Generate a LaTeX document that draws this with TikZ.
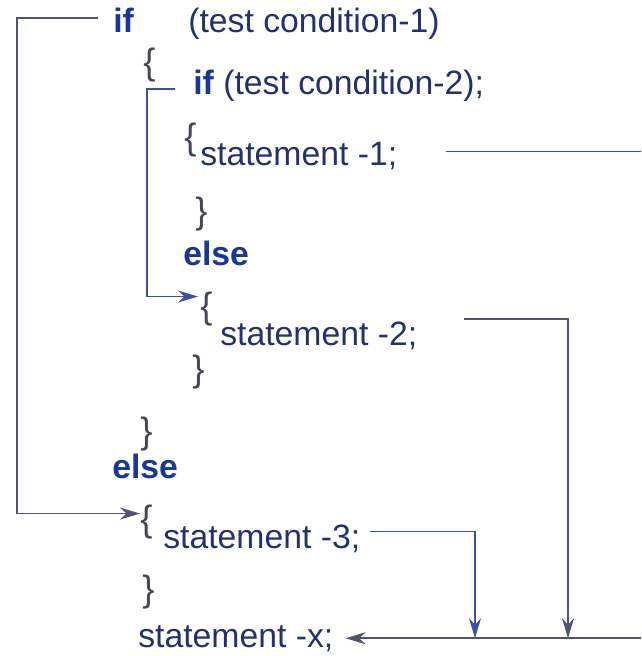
\documentclass[tikz,border=0pt]{standalone}
\usepackage{fontspec}
\setmainfont{Liberation Sans}
\usepackage{tikz}
\usetikzlibrary{arrows.meta,calc}
\definecolor{codetext}{RGB}{35,50,110}
\definecolor{keyword}{RGB}{25,55,150}
\definecolor{outerline}{RGB}{80,85,110}
\definecolor{flowline}{RGB}{60,80,160}
\definecolor{bracegray}{RGB}{70,70,85}
\tikzset{
  code/.style={anchor=base west, inner sep=0pt, text=codetext, font=\fontsize{24}{28}\selectfont},
  kw/.style={code, text=keyword, font=\fontsize{24}{28}\selectfont\bfseries},
  brace/.style={code, text=bracegray, font=\fontsize{26}{28}\selectfont},
  outer/.style={draw=outerline, line width=1.3pt},
  flow/.style={draw=flowline, line width=1.2pt},
  tip/.style={-{Stealth[length=5mm,width=3mm]}}
}
\begin{document}
\begin{tikzpicture}[x=0.025cm, y=-0.025cm]
\useasboundingbox (0,0) rectangle (641,656);

% outer if
\node[kw] (if1) at (113,33) {if};
\node[code] (cond1) at (188,33) {(test condition-1)};
\node[brace] (ob1) at (143,75) {\{};

% inner if
\node[kw] (if2) at (193,95) {if};
\node[code] (cond2) at (223,95) {(test condition-2);};
\node[brace] (ob2) at (184,150) {\{};
\node[code] (st1) at (200,165) {statement -1;};
\node[brace] (cb2) at (195,223) {\}};
\node[kw] (else2) at (183,265) {else};
\node[brace] (ob3) at (200,318) {\{};
\node[code] (st2) at (220,345) {statement -2;};
\node[brace] (cb3) at (192,381) {\}};
\node[brace] (cb1) at (140,443) {\}};

% outer else
\node[kw] (else1) at (112,478) {else};
\node[brace] (ob4) at (140,531) {\{};
\node[code] (st3) at (163,548) {statement -3;};
\node[brace] (cb4) at (142,601) {\}};
\node[code] (stx) at (138,647) {statement -x;};

\coordinate (lft) at (17,0);
\coordinate (inl) at (147,0);
\coordinate (c3) at (475,0);
\coordinate (c2) at (568,0);
\coordinate (rgt) at (641,0);

% connectors
\draw[outer, tip] (if1.west) ++(-15,-3) -- ($(if1.west -| lft)+(0,-3)$) -- ($(ob4.west -| lft)+(0,-8)$) -- ($(ob4.west)+(0,-8)$);
\draw[flow, tip] (if2.west) ++(-18,6) -- ($(if2.west -| inl)+(0,6)$) -- ($(ob3.west -| inl)+(0,-12)$) -- ($(ob3.west)+(-2,-12)$);
\draw[flow] (st1.east) ++(48,-4) -- ($(st1.east -| rgt)+(0,-4)$);
\draw[outer, tip] (st2.east) ++(46,-16) -- ($(st2.east -| c2)+(0,-16)$) -- (stx.east -| c2);
\draw[flow, tip] (st3.east) ++(9,-7) -- ($(st3.east -| c3)+(0,-7)$) -- (stx.east -| c3);
\draw[outer, tip] (stx.east -| rgt) -- ($(stx.east)+(12,0)$);
\end{tikzpicture}
\end{document}
